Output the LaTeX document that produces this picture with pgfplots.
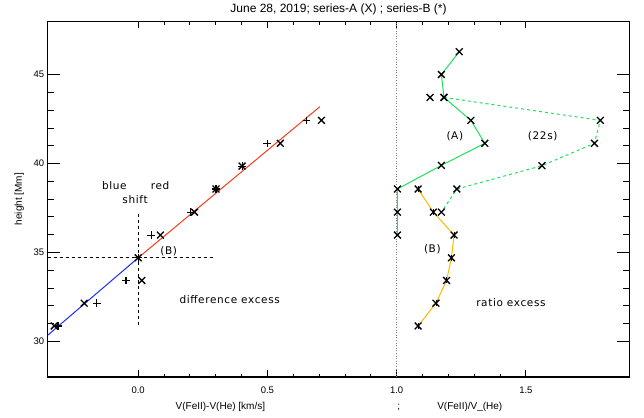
\documentclass[border=0pt]{standalone}
\usepackage{fontspec}
\setmainfont{Liberation Sans}
\newfontfamily\hfont[LetterSpace=6]{DejaVu Sans}
\usepackage{pgfplots}
\pgfplotsset{compat=1.18}
\definecolor{cgreen}{RGB}{30,225,90}
\definecolor{corange}{RGB}{255,185,0}
\definecolor{cred}{RGB}{245,60,30}
\definecolor{cblue}{RGB}{25,45,255}
\begin{document}
\begin{tikzpicture}[x=1pt,y=1pt]
\useasboundingbox (0,0) rectangle (644,417);
\begin{axis}[at={(47.7pt,40pt)}, anchor=south west, scale only axis,
  width=581.6pt, height=355.7pt,
  xmin=-0.35, xmax=1.9, ymin=28, ymax=48,
  xtick={0,0.5,1,1.5}, minor x tick num=4,
  ytick={30,35,40,45}, minor y tick num=4,
  tick align=inside, xtick pos=both, ytick pos=both,
  major tick length=12pt, minor tick length=6pt,
  xtick style={/pgfplots/major tick length=7pt,/pgfplots/minor tick length=3.5pt},
  tick style={line width=0.9pt, black},
  axis line style={line width=1.2pt},
  x tick label style={/pgf/number format/fixed, /pgf/number format/fixed zerofill, /pgf/number format/precision=1, yshift=-6pt},
  /pgf/number format/assume math mode=true,
  tick label style={font=\fontsize{9.5}{12}\selectfont},
  clip=false,
]
% vertical dotted separator
\addplot[gray, dotted, line width=0.6pt] coordinates {(1,28) (1,48)};
% dashed cross
\addplot[black, dashed, line width=0.9pt] coordinates {(-0.35,34.70) (0.296,34.70)};
\addplot[black, dashed, line width=0.9pt] coordinates {(0,37.17) (0,30.83)};
% fit lines
\addplot[cblue, line width=1pt] coordinates {(-0.35,30.35) (0,34.70)};
\addplot[cred, line width=1pt] coordinates {(0,34.70) (0.703,43.20)};
% left panel: series A (x)
\addplot[only marks, mark=x, mark size=4.8pt, black, line width=1.3pt] coordinates {
(-0.325,30.87) (-0.209,32.15) (0.014,33.43) (0.0,34.70) (0.086,35.98)
(0.218,37.27) (0.301,38.57) (0.402,39.86) (0.550,41.14) (0.709,42.43)};
% left panel: series B (+)
\addplot[only marks, mark=+, mark size=3.8pt, black, line width=1.1pt] coordinates {
(-0.31,30.87) (-0.160,32.15) (-0.047,33.43) (0.0,34.70) (0.050,35.98)
(0.203,37.27) (0.301,38.57) (0.402,39.86) (0.499,41.14) (0.651,42.43)};
% right panel: green solid (A)
\addplot[cgreen, line width=1pt, mark=x, mark size=4.8pt,
  mark options={black, solid, line width=1.3pt}] coordinates {
(1.242,46.29) (1.173,45.01) (1.183,43.72) (1.287,42.43) (1.341,41.14)
(1.173,39.90) (1.003,38.57) (1.003,37.27) (1.003,35.98)};
% right panel: green dashed (22s)
\addplot[cgreen, dashed, line width=1pt, mark=x, mark size=4.8pt,
  mark options={black, solid, line width=1.3pt}] coordinates {
(1.183,43.72) (1.788,42.43) (1.765,41.14) (1.562,39.88) (1.233,38.57) (1.173,37.27)};
% extra mark
\addplot[only marks, mark=x, mark size=4.8pt, black, line width=1.3pt] coordinates {(1.129,43.72)};
% right panel: orange (B)
\addplot[corange, line width=1pt, mark=x, mark size=4.8pt,
  mark options={black, solid, line width=1.3pt}] coordinates {
(1.083,38.57) (1.142,37.27) (1.222,35.98) (1.212,34.70) (1.193,33.43) (1.152,32.15) (1.083,30.87)};
\addplot[only marks, mark=|, mark size=3pt, black, line width=0.9pt] coordinates {
(1.083,38.57) (1.142,37.27) (1.222,35.98) (1.212,34.70) (1.193,33.43) (1.152,32.15) (1.083,30.87)};
% texts
\node[font=\hfont\fontsize{10.5}{12}\selectfont] at (axis cs:-0.092,38.76) {blue};
\node[font=\hfont\fontsize{10.5}{12}\selectfont] at (axis cs:0.085,38.76) {red};
\node[font=\hfont\fontsize{10.5}{12}\selectfont] at (axis cs:-0.012,37.95) {shift};
\node[font=\hfont\fontsize{10.5}{12}\selectfont] at (axis cs:0.118,35.1) {(B)};
\node[font=\hfont\fontsize{10.5}{12}\selectfont] at (axis cs:0.354,32.33) {difference excess};
\node[font=\hfont\fontsize{10.5}{12}\selectfont] at (axis cs:1.225,41.55) {(A)};
\node[font=\hfont\fontsize{10.5}{12}\selectfont] at (axis cs:1.565,41.55) {(22s)};
\node[font=\hfont\fontsize{10.5}{12}\selectfont] at (axis cs:1.138,35.18) {(B)};
\node[font=\hfont\fontsize{10.5}{12}\selectfont] at (axis cs:1.442,32.18) {ratio excess};
% title and labels
\node[font=\fontsize{12}{14}\selectfont] at (rel axis cs:0.5,1.033) {June 28, 2019; series-A (X) ; series-B (*)};
\node[font=\fontsize{10}{12}\selectfont, rotate=90] at (rel axis cs:-0.049,0.5) {height [Mm]};
\node[font=\fontsize{10}{12}\selectfont] at (axis cs:0.318,26.3) {V(FeII)-V(He) [km/s]};
\node[font=\fontsize{10}{12}\selectfont] at (axis cs:1.008,26.3) {;};
\node[font=\fontsize{10}{12}\selectfont] at (axis cs:1.283,26.3) {V(FeII)/V\_(He)};
\end{axis}
\end{tikzpicture}
\end{document}
